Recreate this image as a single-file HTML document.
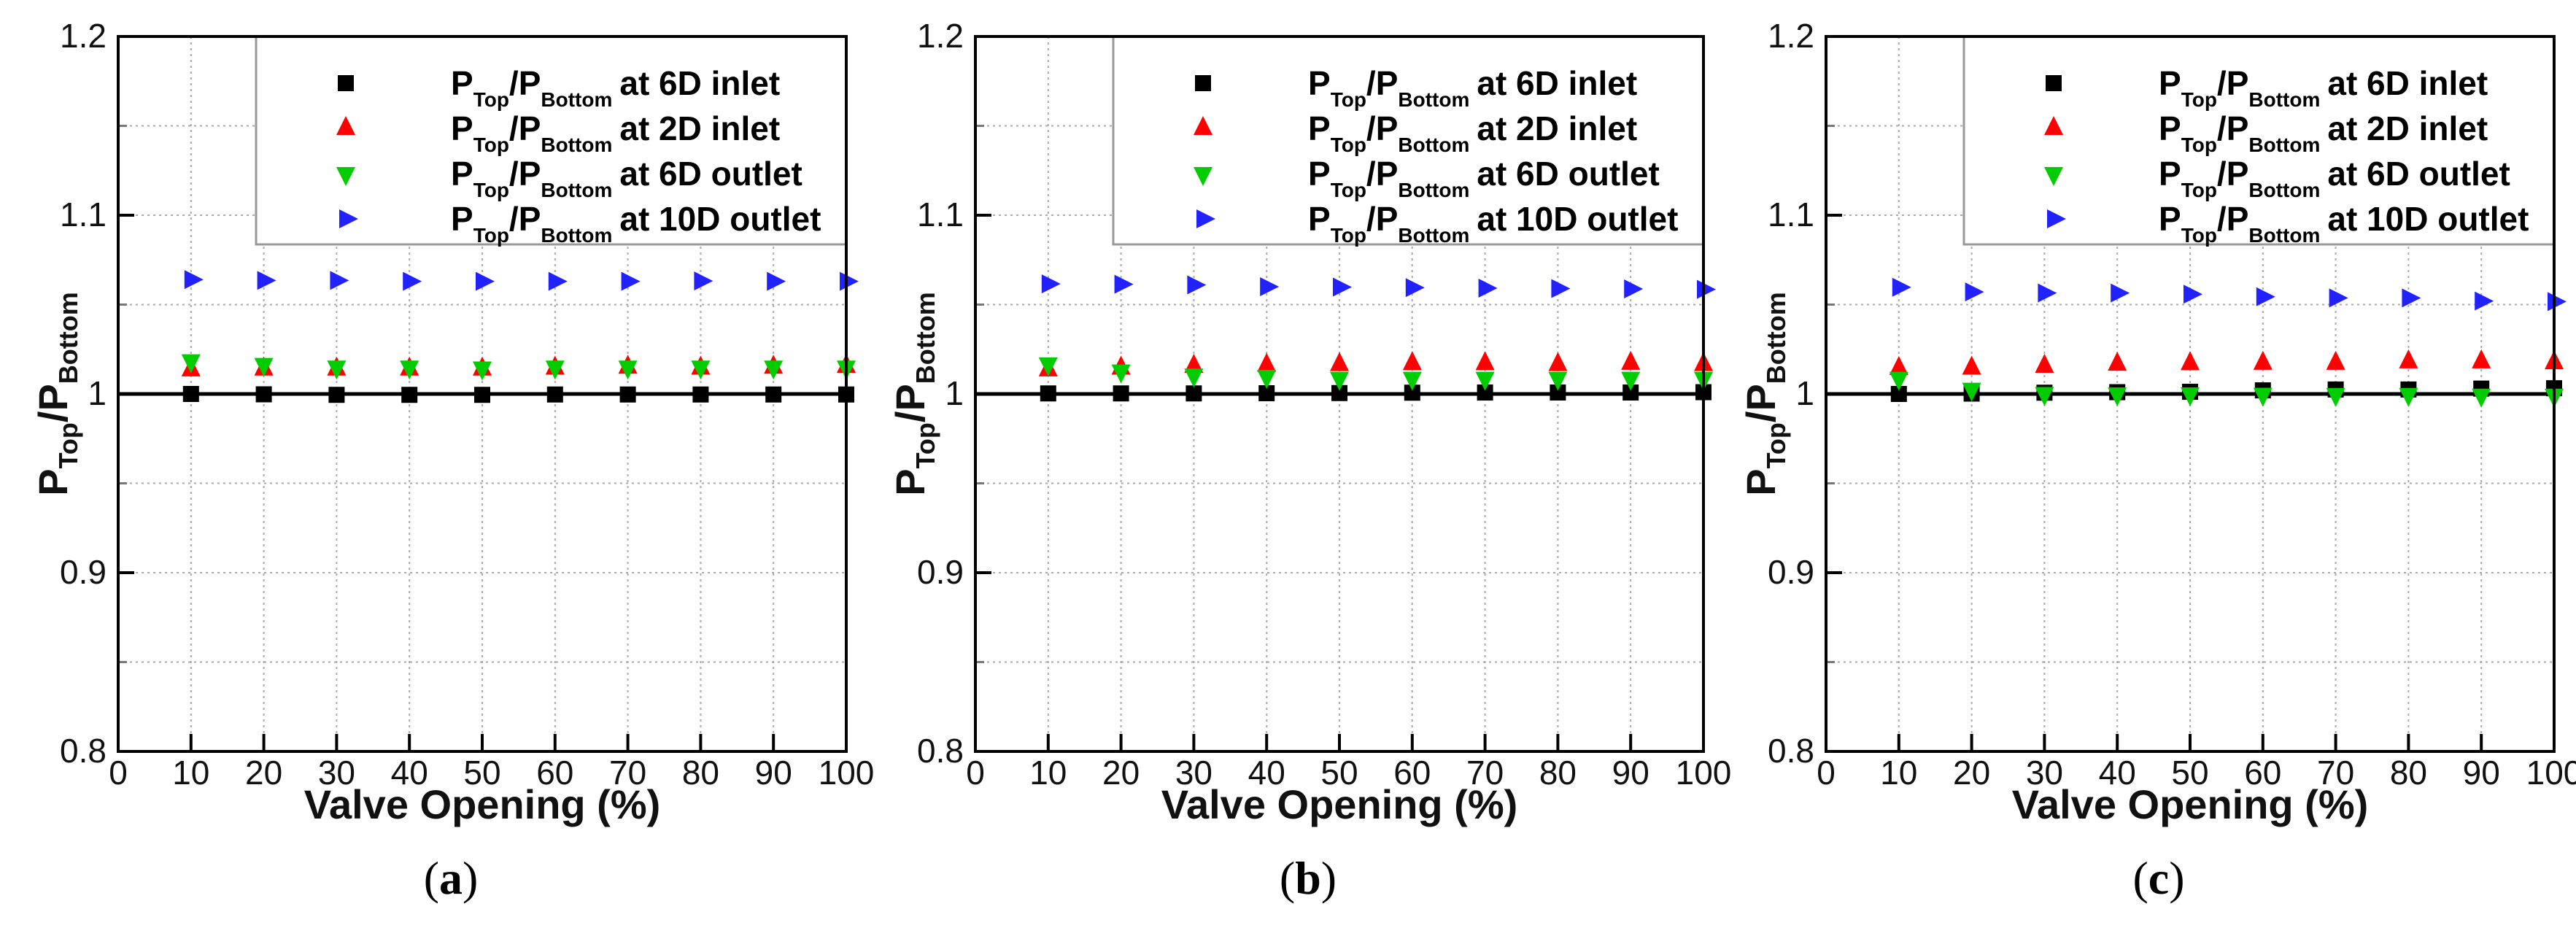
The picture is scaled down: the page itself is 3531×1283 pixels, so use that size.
<!DOCTYPE html>
<html><head><meta charset="utf-8"><style>
html,body{margin:0;padding:0;background:#fff;}
svg{display:block;font-family:"Liberation Sans",Arial,sans-serif;}
</style></head><body>
<svg id="fig" width="3531" height="1283" viewBox="0 0 3531 1283" xmlns="http://www.w3.org/2000/svg"></svg>
<script>
const xValues = [10,20,30,40,50,60,70,80,90,100];
const xTickLabels = ["0","10","20","30","40","50","60","70","80","90","100"];
const yTickLabels = ["0.8","0.9","1","1.1","1.2"];
const panelLabels = ["a","b","c"];
const seriesNames = ["at 6D inlet","at 2D inlet","at 6D outlet","at 10D outlet"];
// panel (a)
const a6Din  = [1.0000,0.9998,0.9995,0.9995,0.9995,0.9997,0.9997,0.9997,0.9997,0.9997];
const a2Din  = [1.0135,1.0140,1.0140,1.0140,1.0140,1.0145,1.0150,1.0145,1.0150,1.0155];
const a6Dout = [1.0185,1.0165,1.0150,1.0150,1.0145,1.0150,1.0150,1.0150,1.0150,1.0150];
const a10Dout= [1.0640,1.0635,1.0635,1.0630,1.0630,1.0630,1.0630,1.0632,1.0630,1.0630];
// panel (b)
const b6Din  = [1.0003,1.0003,1.0003,1.0004,1.0005,1.0007,1.0008,1.0008,1.0008,1.0010];
const b2Din  = [1.0135,1.0145,1.0155,1.0160,1.0165,1.0170,1.0170,1.0165,1.0172,1.0165];
const b6Dout = [1.0168,1.0128,1.0105,1.0098,1.0087,1.0087,1.0087,1.0087,1.0087,1.0087];
const b10Dout= [1.0616,1.0614,1.0610,1.0600,1.0598,1.0595,1.0592,1.0590,1.0588,1.0585];
// panel (c)
const c6Din  = [1.0000,1.0002,1.0007,1.0010,1.0012,1.0020,1.0025,1.0025,1.0030,1.0032];
const c2Din  = [1.0143,1.0145,1.0155,1.0167,1.0170,1.0172,1.0172,1.0180,1.0180,1.0175];
const c6Dout = [1.0087,1.0026,1.0002,1.0000,1.0000,0.9998,0.9997,0.9997,0.9993,0.9993];
const c10Dout= [1.0597,1.0571,1.0565,1.0565,1.0558,1.0544,1.0537,1.0537,1.0520,1.0517];

const panelSeries = [[a6Din,a2Din,a6Dout,a10Dout],[b6Din,b2Din,b6Dout,b10Dout],[c6Din,c2Din,c6Dout,c10Dout]];
const colors = ["#000000","#ff0000","#00cc00","#2222ff"];
const shapes = ["square","up","down","right"];
const panelLefts = [162,1337,2503];
const NS="http://www.w3.org/2000/svg";
const svg=document.getElementById('fig');
function mk(tag,attrs,parent){const e=document.createElementNS(NS,tag);for(const k in attrs)e.setAttribute(k,attrs[k]);(parent||svg).appendChild(e);return e;}
const TOP=50,BOT=1030,W=998,YMIN=0.8,YMAX=1.2;
function marker(g,shape,cx,cy,col){
  let e;
  if(shape==="square") e=mk('rect',{x:cx-11,y:cy-11,width:22,height:22,fill:col},g);
  else if(shape==="up") e=mk('polygon',{points:`${cx-13},${cy+9} ${cx+13},${cy+9} ${cx},${cy-17}`,fill:col},g);
  else if(shape==="down") e=mk('polygon',{points:`${cx-13},${cy-9} ${cx+13},${cy-9} ${cx},${cy+17}`,fill:col},g);
  else e=mk('polygon',{points:`${cx-9},${cy-13} ${cx-9},${cy+13} ${cx+17},${cy}`,fill:col},g);
  return e;
}
panelLefts.forEach((L,pi)=>{
  const g=mk('g',{});
  
  
  const X=v=>L+v/100*W;
  const Y=v=>BOT-(v-YMIN)/(YMAX-YMIN)*(BOT-TOP);
  // grid
  for(let i=1;i<10;i++){const gl=mk('line',{x1:X(i*10),x2:X(i*10),y1:TOP,y2:BOT,stroke:'#aaa','stroke-width':2,'stroke-dasharray':'3,5'},g);
    }
  for(let i=1;i<8;i++){const v=0.8+i*0.05;if(Math.abs(v-1)<1e-6)continue;const gl=mk('line',{x1:L,x2:L+W,y1:Y(v),y2:Y(v),stroke:'#aaa','stroke-width':2,'stroke-dasharray':'3,5'},g);
    }
  // ticks
  for(let i=1;i<10;i++){const t=mk('line',{x1:X(i*10),x2:X(i*10),y1:BOT,y2:BOT-24,stroke:'#000','stroke-width':4},g);}
  yTickLabels.forEach((lab,i)=>{const v=0.8+i*0.1;
    if(i>0&&i<4){const t=mk('line',{x1:L,x2:L+22,y1:Y(v),y2:Y(v),stroke:'#000','stroke-width':4},g);}
    const tx=mk('text',{x:L-16,y:Y(v)+15,'font-size':46,'text-anchor':'end',fill:'#111'},g);tx.textContent=lab;
    
  });
  for(let i=0;i<4;i++){const v=0.85+i*0.1;const t=mk('line',{x1:L,x2:L+12,y1:Y(v),y2:Y(v),stroke:'#777','stroke-width':3},g);}
  xTickLabels.forEach((lab,i)=>{const tx=mk('text',{x:X(i*10),y:1075,'font-size':46,'text-anchor':'middle',fill:'#111'},g);tx.textContent=lab;
    });
  // reference line y=1
  const rl=mk('line',{x1:L,x2:L+W,y1:Y(1),y2:Y(1),stroke:'#000','stroke-width':5},g);
  
  // legend box
  const lg=mk('g',{},g);
  mk('rect',{x:L+189,y:TOP,width:W-189,height:285,fill:'#fff',stroke:'#999','stroke-width':3},lg);
  seriesNames.forEach((nm,si)=>{
    const by=TOP+80+si*62;
    const le=mk('g',{},lg);
    marker(le,shapes[si],L+312,by-16,colors[si]);
    const t=mk('text',{x:L+456,y:by,'font-size':46,'font-weight':'bold',fill:'#000'},le);
    t.innerHTML=`P<tspan font-size="28" dy="16">Top</tspan><tspan dy="-16">/P</tspan><tspan font-size="28" dy="16">Bottom</tspan><tspan dy="-16" dx="10">${nm}</tspan>`;
  });
  // series
  panelSeries[pi].forEach((arr,si)=>{
    const sg=mk('g',{},g);
    arr.forEach((v,j)=>{const m=marker(sg,shapes[si],X(xValues[j]),Y(v),colors[si]);
      });
  });
  // axes frame
  const fr=mk('rect',{x:L,y:TOP,width:W,height:BOT-TOP,fill:'none',stroke:'#000','stroke-width':4},g);
  
  const xt=mk('text',{x:L+W/2,y:1122,'font-size':56,'font-weight':'bold','text-anchor':'middle',fill:'#111'},g);
  xt.textContent='Valve Opening (%)';
  const yt=mk('text',{x:0,y:0,'font-size':56,'font-weight':'bold','text-anchor':'middle',fill:'#111',transform:`translate(${L-70},540) rotate(-90)`},g);
  yt.innerHTML='P<tspan font-size="36" dy="14">Top</tspan><tspan dy="-14">/P</tspan><tspan font-size="36" dy="14">Bottom</tspan>';
  
  const cp=mk('text',{x:L+456,y:1225,'font-size':64,'text-anchor':'middle',fill:'#000','font-family':'Liberation Serif, serif'},g);
  cp.innerHTML=`(<tspan font-weight="bold">${panelLabels[pi]}</tspan>)`;
  
});
</script>
</body></html>
